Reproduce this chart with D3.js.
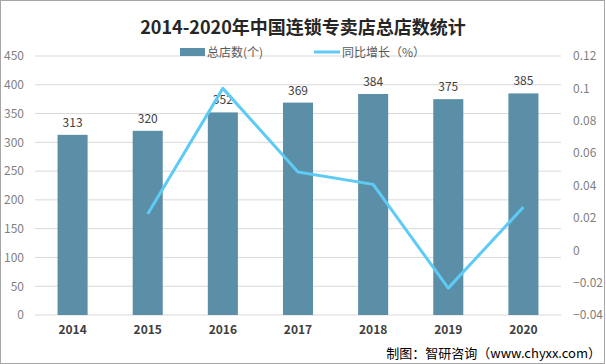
<!DOCTYPE html>
<html><head><meta charset="utf-8">
<script src="https://cdn.jsdelivr.net/npm/d3@7"></script>
<style>body{margin:0;background:#fff}svg{display:block}</style>
</head><body>
<script>
const years = ["2014","2015","2016","2017","2018","2019","2020"];
const stores = [313,320,352,369,384,375,385];
const growth = [null,0.0224,0.100,0.0483,0.0407,-0.0234,0.0267];
const leftTicks = [0,50,100,150,200,250,300,350,400,450];
const rightTicks = [-0.04,-0.02,0,0.02,0.04,0.06,0.08,0.1,0.12];

const W=606,H=364;
const svg=d3.select("body").append("svg").attr("width",W).attr("height",H);
const font='"Microsoft YaHei","Noto Sans CJK SC","Liberation Sans",sans-serif';
svg.append("rect").attr("x",0.5).attr("y",0.5).attr("width",W-2).attr("height",H-1)
  .attr("fill","#fff").attr("stroke","#a6a6a6").attr("stroke-width",1);

const x=d3.scaleBand().domain(years).range([35,561]).paddingInner(0.6).paddingOuter(0.3);
const y=d3.scaleLinear().domain([0,450]).range([315,56]);
const y2=d3.scaleLinear().domain([-0.04,0.12]).range([315,56]);

svg.append("g").selectAll("line").data(leftTicks).join("line")
  .attr("x1",35).attr("x2",561).attr("y1",d=>y(d)).attr("y2",d=>y(d))
  .attr("stroke","#d9d9d9").attr("stroke-width",1);

const la=svg.append("g").attr("transform","translate(35,0)")
  .call(d3.axisLeft(y).tickValues(leftTicks).tickSize(0).tickPadding(11));
la.select(".domain").remove();
la.selectAll("text").attr("fill","#7f7f7f").style("font-family",font).style("font-size","12px");
const ra=svg.append("g").attr("transform","translate(561,0)")
  .call(d3.axisRight(y2).tickValues(rightTicks).tickSize(0).tickPadding(12).tickFormat(d=>d3.format("")(+d.toFixed(2))));
ra.select(".domain").remove();
ra.selectAll("text").attr("fill","#7f7f7f").style("font-family",font).style("font-size","12px");

const xa=svg.append("g").attr("transform","translate(0,315)")
  .call(d3.axisBottom(x).tickSize(0).tickPadding(10));
xa.select(".domain").remove();
xa.selectAll("text").attr("fill","#404040").style("font-family",font).style("font-size","12px").style("font-weight","bold");

svg.append("g").selectAll("rect").data(years).join("rect")
  .attr("x",d=>x(d)).attr("width",x.bandwidth())
  .attr("y",(d,i)=>y(stores[i])).attr("height",(d,i)=>315-y(stores[i]))
  .attr("fill","#5b8fa7");
svg.append("g").selectAll("text").data(years).join("text")
  .attr("x",d=>x(d)+x.bandwidth()/2).attr("y",(d,i)=>y(stores[i])-8)
  .attr("text-anchor","middle").attr("fill","#404040")
  .style("font-family",font).style("font-size","12px").text((d,i)=>stores[i]);

const pts=years.map((d,i)=>({d,v:growth[i]})).filter(p=>p.v!==null);
svg.append("path").datum(pts)
  .attr("d",d3.line().x(p=>x(p.d)+x.bandwidth()/2).y(p=>y2(p.v)))
  .attr("fill","none").attr("stroke","#5dcbf6").attr("stroke-width",3).attr("stroke-linejoin","round");

svg.append("text").attr("x",303).attr("y",34).attr("text-anchor","middle")
  .attr("fill","#262626").style("font-family",'"Noto Sans CJK SC",sans-serif').style("font-size","18px").style("font-weight","bold")
  .text("2014-2020年中国连锁专卖店总店数统计");

svg.append("rect").attr("x",180).attr("y",48).attr("width",25).attr("height",8).attr("fill","#5b8fa7");
svg.append("text").attr("x",207).attr("y",57).attr("fill","#595959").style("font-family",font).style("font-size","12px").text("总店数(个)");
svg.append("line").attr("x1",314).attr("x2",340).attr("y1",52).attr("y2",52).attr("stroke","#5dcbf6").attr("stroke-width",3);
svg.append("text").attr("x",342).attr("y",57).attr("fill","#595959").style("font-family",font).style("font-size","12px").text("同比增长（%）");

svg.append("text").attr("x",601).attr("y",358).attr("text-anchor","end").attr("fill","#000")
  .style("font-family",font).style("font-size","13px").text("制图：智研咨询（www.chyxx.com）");
</script>
</body></html>
